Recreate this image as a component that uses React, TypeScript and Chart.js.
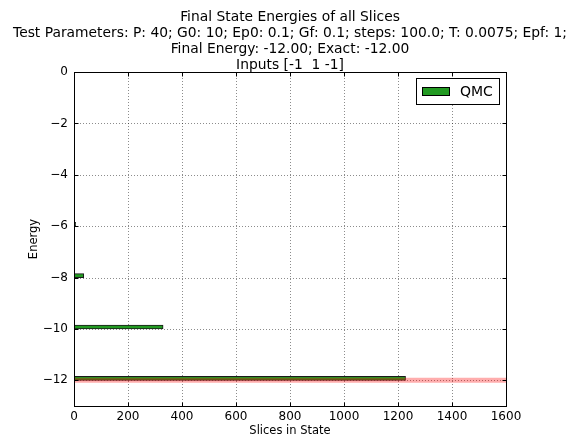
import React, { useEffect, useRef } from 'react';
import { Chart, registerables } from 'chart.js';

Chart.register(...registerables);

// Histogram of final-state energies across slices
const energyLevels = [-6, -8, -10, -12];
const sliceCounts = [6, 36, 330, 1228];
const binWidth = 0.15;
const exactEnergy = -12;

const xTickValues = [0, 200, 400, 600, 800, 1000, 1200, 1400, 1600];
const yTickValues = [0, -2, -4, -6, -8, -10, -12];

const titleLines = [
  'Final State Energies of all Slices',
  'Test Parameters: P: 40; G0: 10; Ep0: 0.1; Gf: 0.1; steps: 100.0; T: 0.0075; Epf: 1;',
  'Final Energy: -12.00; Exact: -12.00',
  'Inputs [-1  1 -1]',
];
const seriesLabel = 'QMC';
const xAxisLabel = 'Slices in State';
const yAxisLabel = 'Energy';

const FONT = "'DejaVu Sans', sans-serif";
const BAR_GREEN = '#229a22';

const fmt = (v: number) => String(v).replace('-', '\u2212');

const decorPlugin = {
  id: 'decor',
  beforeDatasetsDraw(chart: any) {
    const { ctx, chartArea: a, scales } = chart;
    ctx.save();
    ctx.strokeStyle = 'rgba(0,0,0,0.45)';
    ctx.lineWidth = 1;
    ctx.setLineDash([1, 2]);
    xTickValues.forEach((v) => {
      const x = Math.round(scales.x.getPixelForValue(v)) + 0.5;
      ctx.beginPath();
      ctx.moveTo(x, a.top);
      ctx.lineTo(x, a.bottom);
      ctx.stroke();
    });
    yTickValues.forEach((v) => {
      const y = Math.round(scales.y.getPixelForValue(v)) + 0.5;
      ctx.beginPath();
      ctx.moveTo(a.left, y);
      ctx.lineTo(a.right, y);
      ctx.stroke();
    });
    ctx.restore();
  },
  afterDraw(chart: any) {
    const { ctx, chartArea: a, scales } = chart;
    ctx.save();
    // frame
    ctx.strokeStyle = '#000';
    ctx.lineWidth = 1;
    ctx.setLineDash([]);
    const l = Math.round(a.left) + 0.5;
    const r = Math.round(a.right) + 0.5;
    const t = Math.round(a.top) + 0.5;
    const b = Math.round(a.bottom) + 0.5;
    ctx.strokeRect(l, t, r - l, b - t);
    // inward ticks on all four sides
    const tl = 4;
    ctx.beginPath();
    xTickValues.forEach((v) => {
      const x = Math.round(scales.x.getPixelForValue(v)) + 0.5;
      ctx.moveTo(x, b);
      ctx.lineTo(x, b - tl);
      ctx.moveTo(x, t);
      ctx.lineTo(x, t + tl);
    });
    yTickValues.forEach((v) => {
      const y = Math.round(scales.y.getPixelForValue(v)) + 0.5;
      ctx.moveTo(l, y);
      ctx.lineTo(l + tl, y);
      ctx.moveTo(r, y);
      ctx.lineTo(r - tl, y);
    });
    ctx.stroke();

    // titles
    const cx = (a.left + a.right) / 2;
    ctx.fillStyle = '#000';
    ctx.font = `13.85px ${FONT}`;
    ctx.textAlign = 'center';
    ctx.textBaseline = 'middle';
    titleLines.forEach((line, i) => {
      ctx.fillText(line, cx, 17 + i * 16.3);
    });

    // axis titles
    ctx.font = `11.5px ${FONT}`;
    ctx.fillText(xAxisLabel, cx, 431);
    ctx.save();
    ctx.translate(34, (a.top + a.bottom) / 2);
    ctx.rotate(-Math.PI / 2);
    ctx.fillText(yAxisLabel, 0, 0);
    ctx.restore();

    // legend box, upper right inside the axes
    const lx = 416.5;
    const ly = 78.5;
    const lw = 83;
    const lh = 26;
    ctx.fillStyle = '#fff';
    ctx.fillRect(lx, ly, lw, lh);
    ctx.strokeStyle = '#000';
    ctx.strokeRect(lx, ly, lw, lh);
    ctx.fillStyle = BAR_GREEN;
    ctx.fillRect(422, 87, 28, 9);
    ctx.strokeRect(422.5, 87.5, 27, 8);
    ctx.fillStyle = '#000';
    ctx.font = `14px ${FONT}`;
    ctx.textAlign = 'left';
    ctx.fillText(seriesLabel, 460, 92);
    ctx.restore();
  },
};

export default function App() {
  const canvasRef = useRef<HTMLCanvasElement | null>(null);

  useEffect(() => {
    const canvas = canvasRef.current;
    if (!canvas) return;
    const chart = new Chart(canvas, {
      type: 'bar',
      data: {
        datasets: [
          {
            type: 'line',
            label: 'Exact',
            indexAxis: 'x',
            data: [
              { x: xTickValues[0], y: exactEnergy },
              { x: xTickValues[xTickValues.length - 1], y: exactEnergy },
            ],
            borderColor: 'rgba(255,0,0,0.32)',
            borderWidth: 5,
            pointRadius: 0,
            order: 0,
          } as any,
          {
            type: 'bar',
            label: seriesLabel,
            data: energyLevels.map((e, i) => ({ x: sliceCounts[i], y: e + binWidth / 2 })),
            backgroundColor: BAR_GREEN,
            borderColor: '#1a1a1a',
            borderWidth: 1,
            borderSkipped: false,
            barThickness: 4,
            order: 1,
          } as any,
        ],
      },
      options: {
        indexAxis: 'y',
        responsive: false,
        animation: false,
        layout: { padding: { left: 0, right: 65, top: 72, bottom: 0 } },
        plugins: {
          legend: { display: false },
          title: { display: false },
          tooltip: { enabled: false },
        },
        scales: {
          x: {
            type: 'linear',
            min: 0,
            max: 1600,
            offset: false,
            grid: { display: false, drawTicks: false },
            border: { display: false },
            afterBuildTicks: (s: any) => {
              s.ticks = xTickValues.map((v) => ({ value: v }));
            },
            afterFit: (s: any) => {
              s.height = 32;
            },
            ticks: {
              padding: 4,
              maxRotation: 0,
              autoSkip: false,
              color: '#000',
              font: { family: FONT, size: 12 },
              callback: (v: any) => fmt(Number(v)),
            },
          },
          y: {
            type: 'linear',
            min: -13,
            max: 0,
            offset: false,
            grid: { display: false, drawTicks: false, offset: false },
            border: { display: false },
            afterBuildTicks: (s: any) => {
              s.ticks = yTickValues.map((v) => ({ value: v }));
            },
            afterFit: (s: any) => {
              s.width = 74;
            },
            ticks: {
              padding: 6,
              autoSkip: false,
              color: '#000',
              font: { family: FONT, size: 12 },
              callback: (v: any) => fmt(Number(v)),
            },
          },
        },
      } as any,
      plugins: [decorPlugin],
    });
    return () => chart.destroy();
  }, []);

  return (
    <div style={{ position: 'fixed', left: 0, top: 0, width: 571, height: 438, background: '#fff' }}>
      <canvas ref={canvasRef} width={571} height={438} />
    </div>
  );
}
